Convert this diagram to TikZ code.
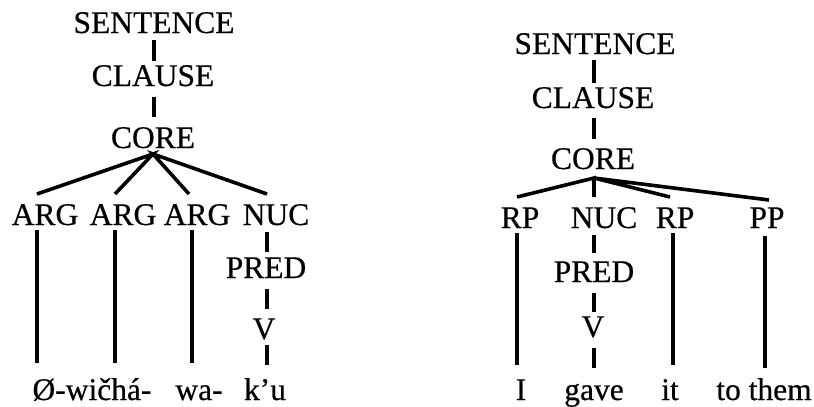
\documentclass[tikz,border=0pt]{standalone}
\usepackage{fontspec}
\setmainfont{Liberation Serif}[FakeBold=0.5]
\begin{document}
\begin{tikzpicture}[x=1pt,y=-1pt,
  lbl/.style={anchor=base,inner sep=0pt,font=\fontsize{31.5}{32}\selectfont},
  vline/.style={line width=3.2pt},
  dline/.style={line width=3.6pt}]
\useasboundingbox (0,0) rectangle (814,407);
% ---------- left tree ----------
\node[lbl] (Lsent) at (154,33) {SENTENCE};
\node[lbl] (Lclause) at (153,86) {CLAUSE};
\node[lbl] (Lcore) at (153,148) {CORE};
\node[lbl] (Larg1) at (45,225) {ARG};
\node[lbl] (Larg2) at (123,225) {ARG};
\node[lbl] (Larg3) at (197,225) {ARG};
\node[lbl] (Lnuc) at (276,225) {NUC};
\node[lbl] (Lpred) at (266,278) {PRED};
\node[lbl] (Lv) at (264,339) {V};
\node[lbl] (Lw1) at (92,400) {Ø-wičhá-};
\node[lbl] (Lw2) at (199,400) {wa-};
\node[lbl] (Lw3) at (265,400) {k’u};
\coordinate (Ls1) at (154,40);  \coordinate (Ls2) at (154,61);
\coordinate (Lc1) at (154,97);  \coordinate (Lc2) at (154,117);
\coordinate (Lk) at (153,154);
\coordinate (La1t) at (37,194); \coordinate (La2t) at (115,194);
\coordinate (La3t) at (189,194); \coordinate (Lnt) at (267,194);
\coordinate (La1a) at (37,230); \coordinate (La1b) at (37,363);
\coordinate (La2a) at (115,230); \coordinate (La2b) at (115,363);
\coordinate (La3a) at (192,230); \coordinate (La3b) at (192,363);
\coordinate (Ln1) at (267,232); \coordinate (Ln2) at (267,252);
\coordinate (Lp1) at (267,289); \coordinate (Lp2) at (267,309);
\coordinate (Lv1) at (267,345); \coordinate (Lv2) at (267,365);
\draw[vline] (Ls1) -- (Ls2);
\draw[vline] (Lc1) -- (Lc2);
\draw[dline] (La1t) -- (Lk) -- (La2t);
\draw[dline] (La3t) -- (Lk) -- (Lnt);
\draw[vline] (La1a) -- (La1b);
\draw[vline] (La2a) -- (La2b);
\draw[vline] (La3a) -- (La3b);
\draw[vline] (Ln1) -- (Ln2);
\draw[vline] (Lp1) -- (Lp2);
\draw[vline] (Lv1) -- (Lv2);
% ---------- right tree ----------
\node[lbl] (Rsent) at (595,54) {SENTENCE};
\node[lbl] (Rclause) at (593,108) {CLAUSE};
\node[lbl] (Rcore) at (593,169) {CORE};
\node[lbl] (Rrp1) at (520,228) {RP};
\node[lbl] (Rnuc) at (604,228) {NUC};
\node[lbl] (Rrp2) at (675,228) {RP};
\node[lbl] (Rpp) at (767,228) {PP};
\node[lbl] (Rpred) at (594,282) {PRED};
\node[lbl] (Rv) at (593,337) {V};
\node[lbl] (Rw1) at (521,400) {I};
\node[lbl] (Rw2) at (594,400) {gave};
\node[lbl] (Rw3) at (670,400) {it};
\node[lbl] (Rw4) at (764,400) {to them};
\coordinate (Rs1) at (594,60);  \coordinate (Rs2) at (594,83);
\coordinate (Rc1) at (594,118); \coordinate (Rc2) at (594,139);
\coordinate (Rk) at (594,178);
\coordinate (Rr1t) at (517,197); \coordinate (Rnt) at (594,197);
\coordinate (Rr2t) at (670,197); \coordinate (Rppt) at (769,200);
\coordinate (Rr1a) at (517,233); \coordinate (Rr1b) at (517,365);
\coordinate (Rr2a) at (673,233); \coordinate (Rr2b) at (673,365);
\coordinate (Rppa) at (765,236); \coordinate (Rppb) at (765,368);
\coordinate (Rn1) at (594,235); \coordinate (Rn2) at (594,253);
\coordinate (Rp1) at (594,293); \coordinate (Rp2) at (594,312);
\coordinate (Rv1) at (594,348); \coordinate (Rv2) at (594,368);
\draw[vline] (Rs1) -- (Rs2);
\draw[vline] (Rc1) -- (Rc2);
\draw[dline] (Rr1t) -- (Rk) -- (Rnt);
\draw[dline] (Rr2t) -- (Rk) -- (Rppt);
\draw[vline] (Rr1a) -- (Rr1b);
\draw[vline] (Rr2a) -- (Rr2b);
\draw[vline] (Rppa) -- (Rppb);
\draw[vline] (Rn1) -- (Rn2);
\draw[vline] (Rp1) -- (Rp2);
\draw[vline] (Rv1) -- (Rv2);
\end{tikzpicture}
\end{document}
